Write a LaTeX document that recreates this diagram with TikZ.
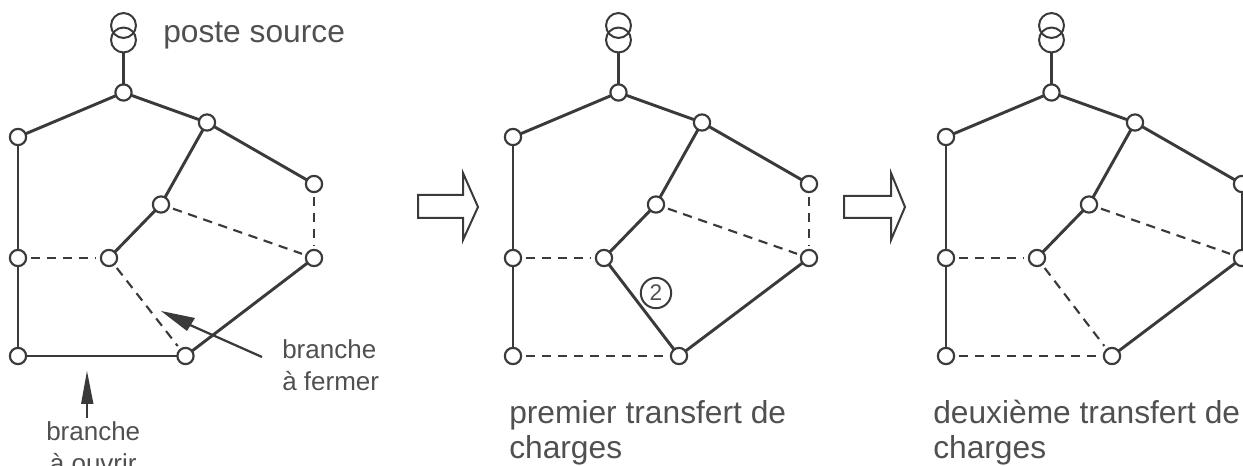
\documentclass[tikz,border=0pt]{standalone}
\usepackage{fontspec}
\setmainfont{Liberation Sans}
\definecolor{ink}{HTML}{3A3A3A}
\definecolor{txt}{HTML}{505050}
\tikzset{
  nd/.style={circle,draw=ink,line width=1.6pt,fill=white,minimum size=12.2pt,inner sep=0pt},
  heavy/.style={draw=ink,line width=2.2pt},
  lite/.style={draw=ink,line width=1.7pt},
  dsh/.style={draw=ink,line width=1.6pt,dash pattern=on 7pt off 5pt,shorten >=9.5pt,shorten <=9.5pt},
  lbl/.style={inner sep=0pt,text=txt,font=\fontsize{19.5pt}{24pt}\selectfont,align=left,anchor=west},
  big/.style={lbl,font=\fontsize{23.8pt}{26.25pt}\selectfont},
  ring/.style={circle,draw=ink,line width=1.5pt,inner sep=0pt,minimum size=18.7pt},
  hollow/.style={draw=ink,line width=1.5pt,fill=white,line join=miter},
}
\newcommand{\net}[2]{%
  \begin{scope}[shift={(#1,0)}]
    \node[ring] (#2t1) at (123.5,25.5) {};
    \node[ring] (#2t2) at (123.5,40) {};
    \coordinate (#2A) at (123.5,92.5);
    \coordinate (#2B) at (18,137);
    \coordinate (#2C) at (207,122.5);
    \coordinate (#2D) at (314,184);
    \coordinate (#2E) at (161,204.5);
    \coordinate (#2F) at (18,258);
    \coordinate (#2G) at (109,258);
    \coordinate (#2H) at (314,258);
    \coordinate (#2I) at (18,356);
    \coordinate (#2J) at (184,356);
  \end{scope}}
\begin{document}
\begin{tikzpicture}[x=0.75pt,y=-0.75pt]
\useasboundingbox (0,0) rectangle (1243,466);
\clip (0,0) rectangle (1243,466);
\net{0}{p}\net{495}{q}\net{928}{r}
\coordinate (pJ) at (185.5,356);
% common lines
\foreach \n in {p,q,r}{
  \draw[lite] (\n t2.south) -- (\n A);
  \draw[heavy] (\n A) -- (\n B);
  \draw[heavy] (\n A) -- (\n C);
  \draw[heavy] (\n C) -- (\n D);
  \draw[heavy] (\n C) -- (\n E);
  \draw[heavy] (\n E) -- (\n G);
  \draw[lite] (\n B) -- (\n F);
  \draw[lite] (\n F) -- (\n I);
  \draw[heavy] (\n H) -- (\n J);
  \draw[dsh] (\n F) -- (\n G);
  \draw[dsh] (\n E) -- (\n H);
}
% state-dependent branches
\draw[dsh] (pD) -- (pH);
\draw[dsh] (pG) -- (pJ);
\draw[lite] (pI) -- (pJ);
\draw[dsh] (qD) -- (qH);
\draw[heavy] (qG) -- (qJ);
\draw[dsh] (qI) -- (qJ);
\draw[heavy] (rD) -- (rH);
\draw[dsh] (rG) -- (rJ);
\draw[dsh] (rI) -- (rJ);
% nodes on top
\foreach \n in {p,q,r}{
  \foreach \m in {A,B,C,D,E,F,G,H,I,J}{
    \node[nd] (\n\m n) at (\n\m) {};
  }
}
% labels
\node[big,anchor=base west] (l1) at (163,43) {poste source};
\node[lbl] (l2) at (282,365) {branche\\à fermer};
\node[lbl,align=center] (l3) at (46,447.5) {branche\\à ouvrir};
\node[big] (l4) at (509,432.5) {premier transfert de\\charges};
\node[big] (l5) at (933,432.5) {deuxième transfert de\\charges};
\node[ring,minimum size=22.8pt,font=\fontsize{17pt}{17pt}\selectfont,text=txt] (two) at (656,293) {2};
% pointers
\coordinate (f1) at (262,357);
\coordinate (f2) at (161,311);
\coordinate (f3) at (87,418);
\coordinate (f4) at (87,371);
\draw[lite] (f1) -- (190,325);
\fill[ink] (f2) -- (195,318) -- (187,331) -- cycle;
\draw[lite] (f3) -- (87,400);
\fill[ink] (f4) -- (93.5,404) -- (81,404) -- cycle;
% hollow arrows
\draw[hollow] (418,195) -- (463,195) -- (463,173) -- (478,207) -- (463,240) -- (463,218) -- (418,218) -- cycle;
\draw[hollow] (844,196) -- (891,196) -- (891,173) -- (905,207) -- (891,240) -- (891,218) -- (844,218) -- cycle;
\end{tikzpicture}
\end{document}
